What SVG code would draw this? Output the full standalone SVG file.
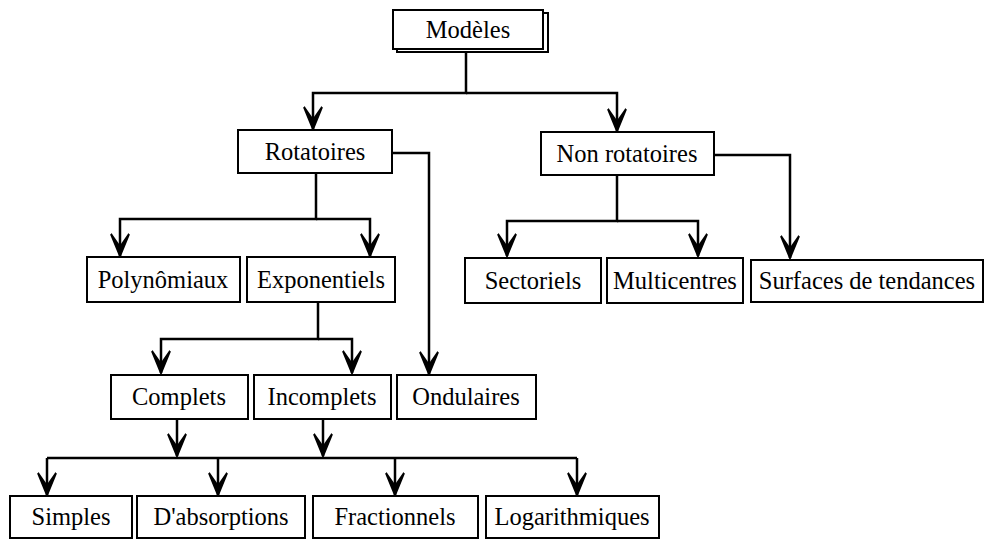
<svg xmlns="http://www.w3.org/2000/svg" width="986" height="542" viewBox="0 0 986 542">
<defs>
<style>
.box{fill:#fff;stroke:#000;stroke-width:2}
.lbl{font-family:"Liberation Serif","Times New Roman",serif;font-size:24.5px;text-anchor:middle;fill:#000}
.c{fill:none;stroke:#000;stroke-width:2.5}
.a{fill:none;stroke:#000;stroke-width:2.5;marker-end:url(#arr)}
</style>
<marker id="arr" markerUnits="userSpaceOnUse" viewBox="-24 -11 26 22" markerWidth="26" markerHeight="22" refX="0" refY="0" orient="auto" overflow="visible">
<path d="M0,0 L-22,-9 L-9,0 L-22,9 Z" fill="#000" stroke="#000" stroke-width="2" stroke-linejoin="miter"/>
</marker>
</defs>
<rect width="986" height="542" fill="#fff"/>
<g id="connectors">
<path class="a" d="M466,52 V93 H313 V129"/>
<path class="a" d="M466,93 H617 V131"/>
<path class="a" d="M316,173 V219 H120 V256"/>
<path class="a" d="M316,219 H370 V256"/>
<path class="a" d="M392,153 H429 V374"/>
<path class="a" d="M318,302 V339 H161 V373"/>
<path class="a" d="M318,339 H352 V373"/>
<path class="a" d="M617,175 V221 H507 V256"/>
<path class="a" d="M617,221 H698 V256"/>
<path class="a" d="M714,155 H790 V258"/>
<path class="a" d="M177,419 V456"/>
<path class="a" d="M323,419 V456"/>
<path class="c" d="M47,458 H577"/>
<path class="a" d="M47,458 V495"/>
<path class="a" d="M218,458 V495"/>
<path class="a" d="M395,458 V495"/>
<path class="a" d="M577,458 V495"/>
</g>
<g id="modeles">
<rect class="box" x="397" y="13" width="151" height="39"/>
<rect class="box" x="393" y="10" width="150" height="39"/>
<text class="lbl" x="468" y="38">Modèles</text>
</g>
<g id="rotatoires">
<rect class="box" x="238" y="130" width="154" height="43"/>
<text class="lbl" x="315" y="160">Rotatoires</text>
</g>
<g id="non-rotatoires">
<rect class="box" x="541" y="132" width="173" height="43"/>
<text class="lbl" x="627" y="162">Non rotatoires</text>
</g>
<g id="polynomiaux">
<rect class="box" x="87" y="257" width="153" height="45"/>
<text class="lbl" x="163" y="288">Polynômiaux</text>
</g>
<g id="exponentiels">
<rect class="box" x="247" y="257" width="148" height="45"/>
<text class="lbl" x="321" y="288">Exponentiels</text>
</g>
<g id="sectoriels">
<rect class="box" x="465" y="258" width="136" height="45"/>
<text class="lbl" x="533" y="289">Sectoriels</text>
</g>
<g id="multicentres">
<rect class="box" x="607" y="258" width="136" height="45"/>
<text class="lbl" x="675" y="289">Multicentres</text>
</g>
<g id="surfaces">
<rect class="box" x="751" y="260" width="232" height="42"/>
<text class="lbl" x="867" y="289">Surfaces de tendances</text>
</g>
<g id="complets">
<rect class="box" x="111" y="375" width="137" height="44"/>
<text class="lbl" x="179" y="405">Complets</text>
</g>
<g id="incomplets">
<rect class="box" x="254" y="375" width="137" height="44"/>
<text class="lbl" x="322" y="405">Incomplets</text>
</g>
<g id="ondulaires">
<rect class="box" x="397" y="375" width="139" height="44"/>
<text class="lbl" x="466" y="405">Ondulaires</text>
</g>
<g id="simples">
<rect class="box" x="10" y="496" width="122" height="42"/>
<text class="lbl" x="71" y="525">Simples</text>
</g>
<g id="absorptions">
<rect class="box" x="137" y="496" width="168" height="42"/>
<text class="lbl" x="221" y="525">D'absorptions</text>
</g>
<g id="fractionnels">
<rect class="box" x="313" y="496" width="165" height="42"/>
<text class="lbl" x="395" y="525">Fractionnels</text>
</g>
<g id="logarithmiques">
<rect class="box" x="486" y="496" width="173" height="42"/>
<text class="lbl" x="572" y="525">Logarithmiques</text>
</g>
</svg>
